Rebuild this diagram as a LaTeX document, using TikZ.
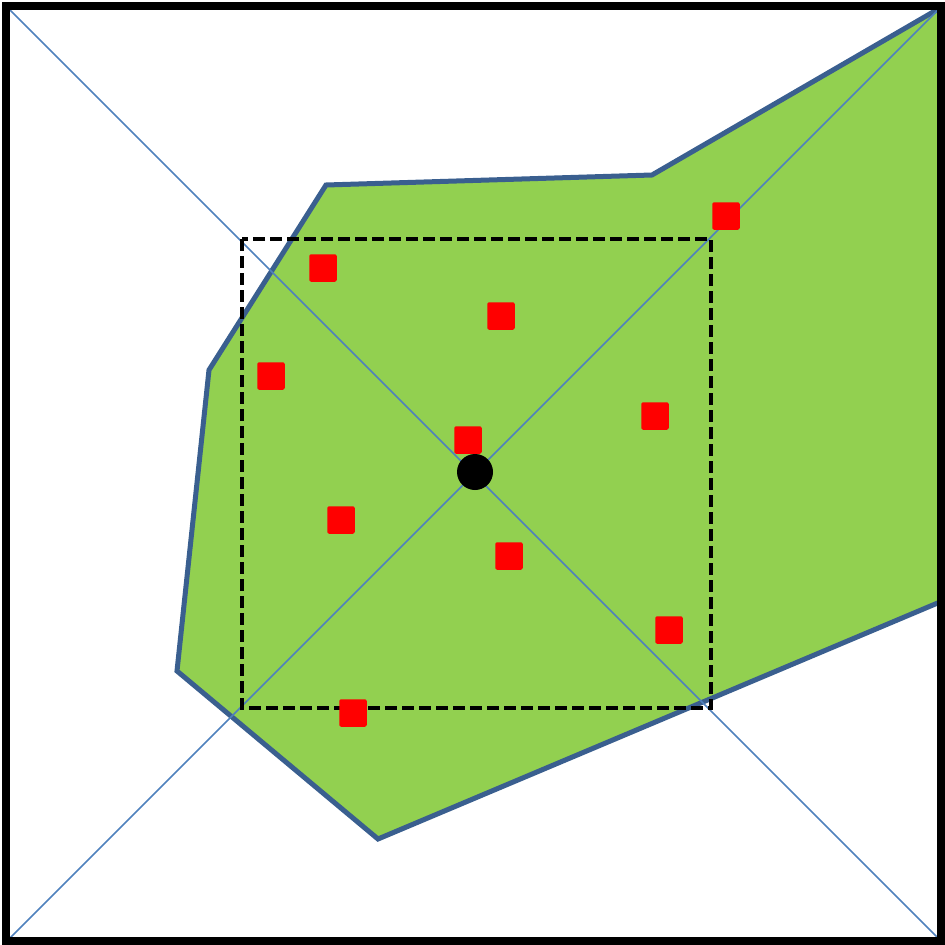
\documentclass[tikz,border=0pt]{standalone}
\definecolor{fillgreen}{HTML}{92D050}
\definecolor{edgeblue}{HTML}{3A5F8F}
\definecolor{diagblue}{HTML}{4F81BD}
\tikzset{
  pt/.style={fill=red, draw=none, minimum size=27.5pt, inner sep=0pt, rounded corners=2pt, rectangle},
  centerdot/.style={circle, fill=black, minimum size=36pt, inner sep=0pt},
}
\begin{document}
\begin{tikzpicture}[x=1pt,y=-1pt]
\useasboundingbox (0,0) rectangle (945,945);
\begin{scope}
\clip (0,0) rectangle (945,945);
% green region
\draw[fill=fillgreen, draw=edgeblue, line width=5pt, line join=miter]
  (326,185) -- (652,175) -- (940,8) -- (940,602) -- (378,839) -- (177,671) -- (209,370) -- cycle;
% diagonals
\coordinate (tl) at (8,8);
\coordinate (tr) at (940,8);
\coordinate (bl) at (8,940);
\coordinate (br) at (940,940);
\draw[diagblue, line width=1.5pt] (tl) -- (br);
\draw[diagblue, line width=1.5pt] (tr) -- (bl);
% dashed window
\draw[black, line width=4.5pt, dash pattern=on 12pt off 5pt] (242,239) rectangle (711,708);
% points
\node[pt] (p1) at (726,216) {};
\node[pt] (p2) at (323,268) {};
\node[pt] (p3) at (501,316) {};
\node[pt] (p4) at (271,376) {};
\node[pt] (p5) at (655,416) {};
\node[pt] (p6) at (468,440) {};
\node[pt] (p7) at (341,520) {};
\node[pt] (p8) at (509,556) {};
\node[pt] (p9) at (669,630) {};
\node[pt] (p10) at (353,713) {};
\node[centerdot] (c) at (475,472) {};
% frame
\draw[black, line width=8pt] (6,6) rectangle (941,941);
\end{scope}
\end{tikzpicture}
\end{document}
